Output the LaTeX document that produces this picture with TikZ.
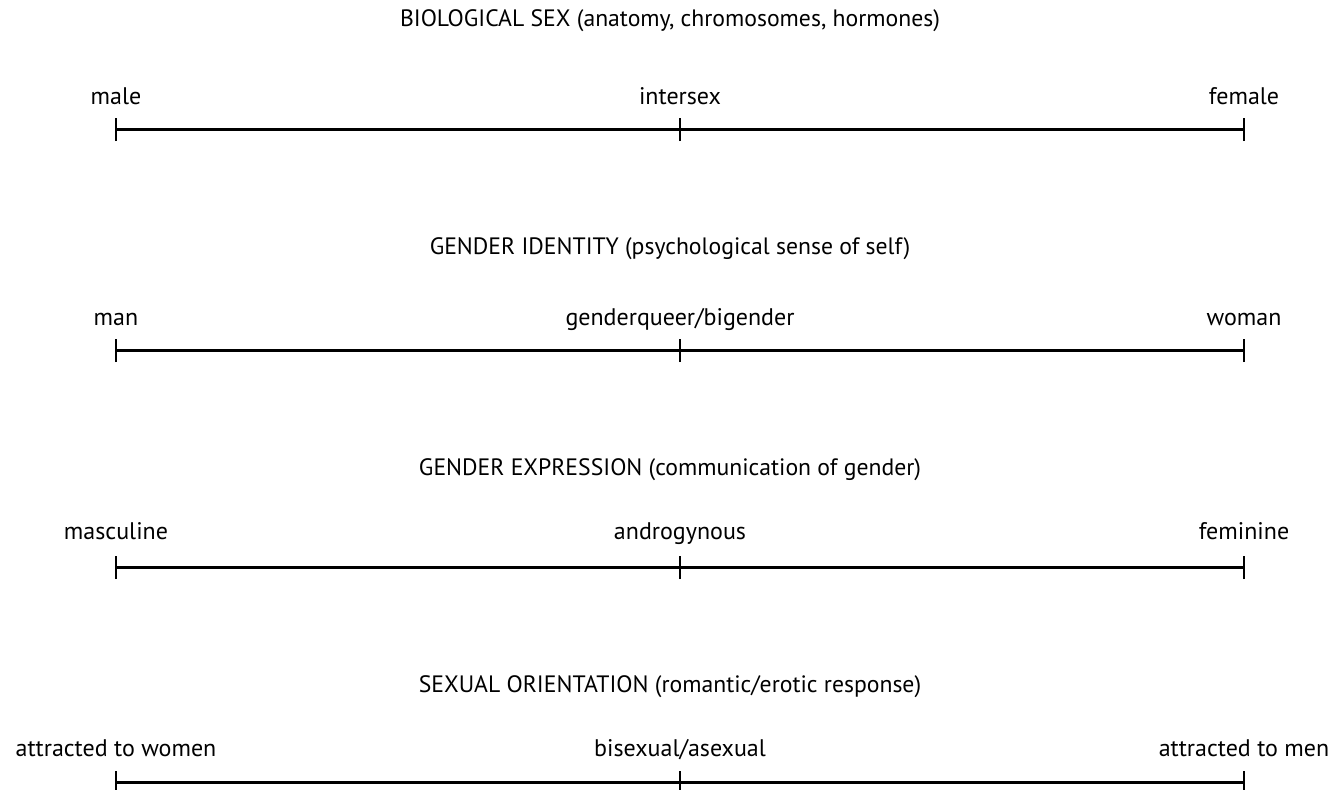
\documentclass[tikz,border=0pt]{standalone}
\usepackage{fontspec}
\setmainfont{PT Sans}
\begin{document}
\begin{tikzpicture}[x=1pt,y=-1pt,
  titletext/.style={font=\fontsize{23.7}{27}\selectfont, inner sep=0pt, anchor=base},
  labtext/.style={font=\fontsize{24}{28}\selectfont, inner sep=0pt, anchor=base},
  scaleline/.style={line width=3pt},
  tickmark/.style={line width=2.6pt}]
\useasboundingbox (0,0) rectangle (1339,790);
\foreach \i/\ty/\ly/\sy/\t/\a/\b/\c in {
  1/26/104/129/{BIOLOGICAL SEX (anatomy, chromosomes, hormones)}/male/intersex/female,
  2/254/325/350/{GENDER IDENTITY (psychological sense of self)}/man/genderqueer\slash bigender/woman,
  3/475/539/567/{GENDER EXPRESSION (communication of gender)}/masculine/androgynous/feminine,
  4/692/756/782/{SEXUAL ORIENTATION (romantic\slash erotic response)}/attracted to women/bisexual\slash asexual/attracted to men}{
  \node[titletext] (t\i) at (670,\ty) {\t};
  \coordinate (l\i) at (116,\sy);
  \coordinate (m\i) at (680,\sy);
  \coordinate (r\i) at (1244,\sy);
  \node[labtext] (a\i) at (116,\ly) {\a};
  \node[labtext] (b\i) at (680,\ly) {\b};
  \node[labtext] (c\i) at (1244,\ly) {\c};
  \draw[scaleline] (l\i) -- (r\i);
  \draw[tickmark] ([yshift=-12pt]l\i) -- ([yshift=11pt]l\i);
  \draw[tickmark] ([yshift=-12pt]m\i) -- ([yshift=11pt]m\i);
  \draw[tickmark] ([yshift=-12pt]r\i) -- ([yshift=11pt]r\i);
}
\end{tikzpicture}
\end{document}
